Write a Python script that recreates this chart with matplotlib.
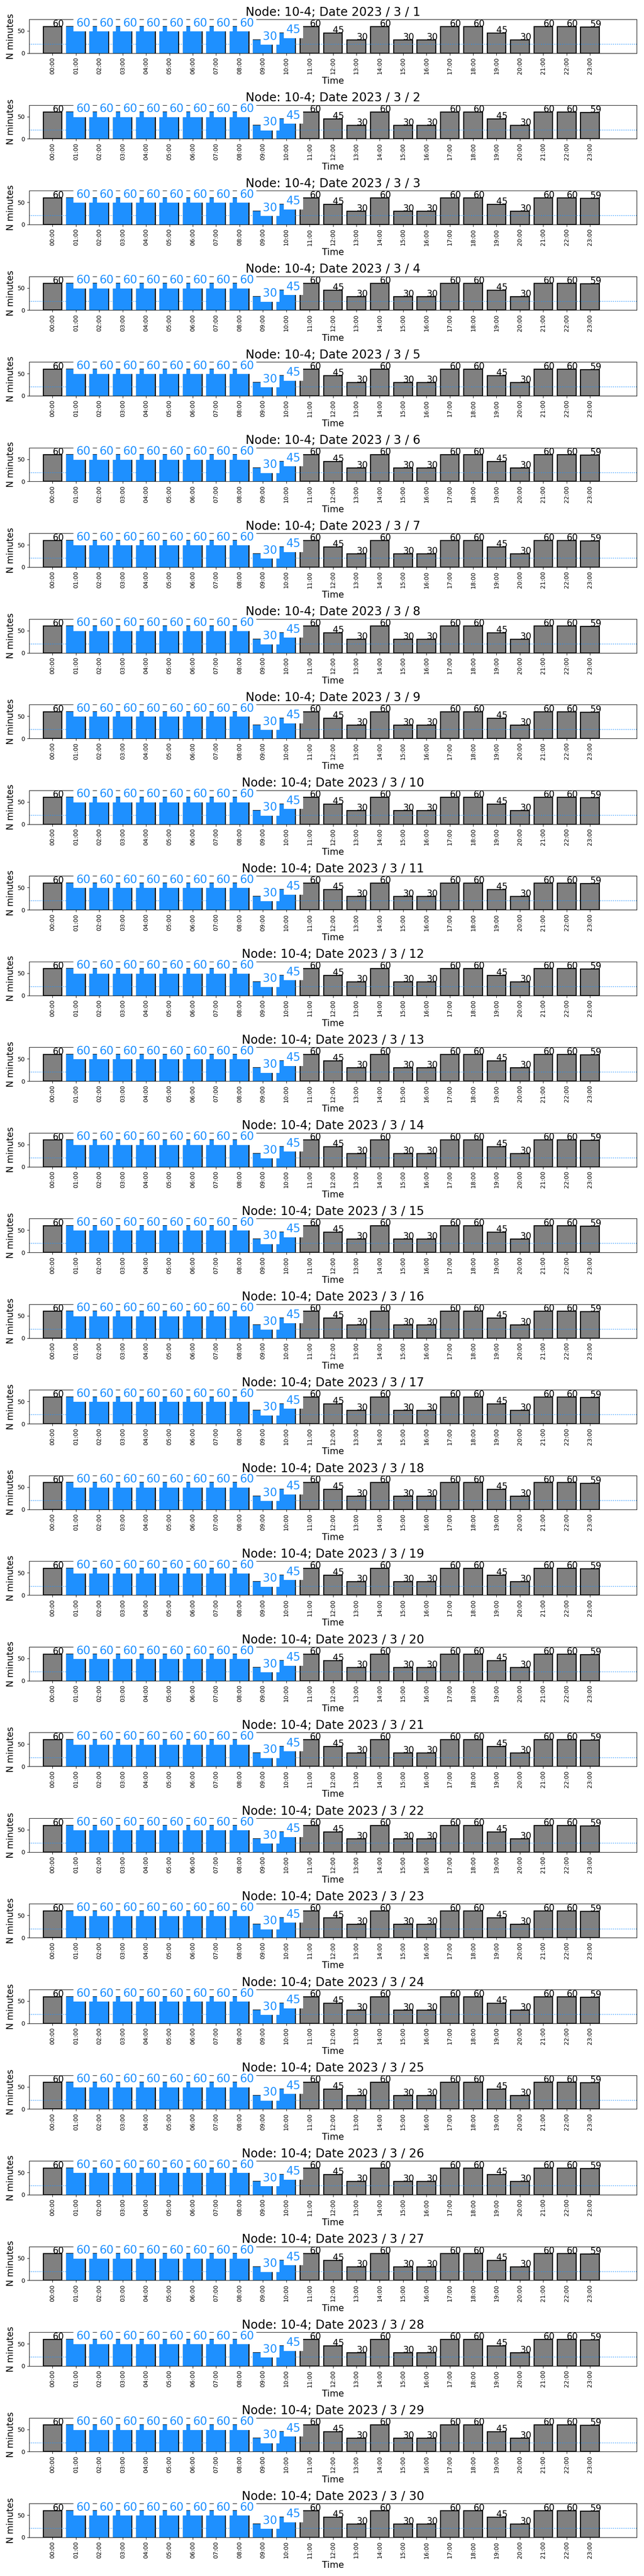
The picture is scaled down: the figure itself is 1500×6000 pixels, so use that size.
import numpy as np
import matplotlib.pyplot as plt

# one day of records, repeated for every date in March
hours = ["00:00", "01:00", "02:00", "03:00", "04:00", "05:00", "06:00", "07:00",
         "08:00", "09:00", "10:00", "11:00", "12:00", "13:00", "14:00", "15:00",
         "16:00", "17:00", "18:00", "19:00", "20:00", "21:00", "22:00", "23:00"]
minutes = [60, 60, 60, 60, 60, 60, 60, 60, 60, 30, 45, 60,
           45, 30, 60, 30, 30, 60, 60, 45, 30, 60, 60, 59]
highlight = [1, 2, 3, 4, 5, 6, 7, 8, 9, 10]   # hours drawn in blue
days = list(range(1, 31))
threshold = 20

fig, axes = plt.subplots(len(days), 1, figsize=(15, 60), dpi=100)
fig.subplots_adjust(left=0.0453, right=0.9887, top=0.9925, bottom=0.015, hspace=1.53)

x = np.arange(len(hours))
hl_vals = [minutes[i] for i in highlight]

for ax, day in zip(axes, days):
    ax.bar(x, minutes, width=0.8, color='grey', edgecolor='black', linewidth=1.7)
    for i, v in enumerate(minutes):
        ax.text(i, v, str(v), fontsize=15)
    ax.bar(np.array(highlight) - 0.025, hl_vals, width=0.8, color='dodgerblue', linewidth=0)
    for i, v in zip(highlight, hl_vals):
        ax.text(i, v, str(v), fontsize=19, color='dodgerblue',
                bbox=dict(facecolor='white', edgecolor='none'))
    ax.axhline(threshold, color='dodgerblue', linestyle=':', linewidth=1.2)
    ax.set_xlim(-1, 25)
    ax.set_ylim(0, 76)
    ax.set_xticks(x)
    ax.set_xticklabels(hours, rotation=90, fontsize=10)
    ax.set_yticks([0, 50])
    ax.tick_params(axis='y', labelsize=10)
    ax.set_title("Node: 10-4; Date 2023 / 3 / %d" % day, fontsize=20)
    ax.set_xlabel("Time", fontsize=15)
    ax.set_ylabel("N minutes", fontsize=15)

fig.savefig("out.png", dpi=100)
